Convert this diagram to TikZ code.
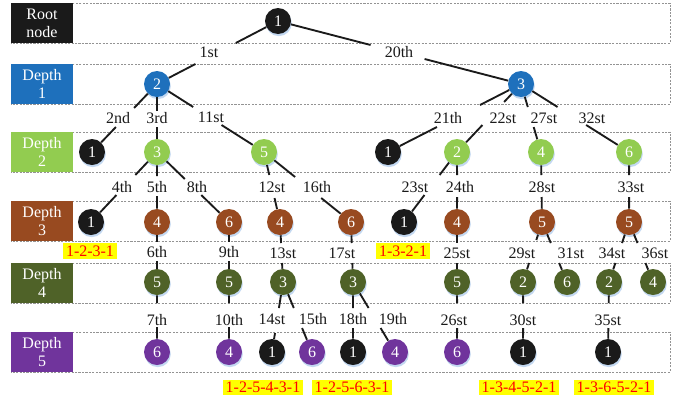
\documentclass[tikz,border=0pt]{standalone}
\usepackage{fontspec}
\setmainfont{Liberation Serif}
\usetikzlibrary{shadows}
\definecolor{cBlk}{RGB}{26,26,26}
\definecolor{cD1}{RGB}{30,112,188}
\definecolor{cD2}{RGB}{146,204,80}
\definecolor{cD3}{RGB}{152,74,32}
\definecolor{cD4}{RGB}{79,98,40}
\definecolor{cD5}{RGB}{112,52,156}
\definecolor{cHl}{RGB}{255,255,0}
\definecolor{cHt}{RGB}{255,0,0}
\definecolor{cGlow}{RGB}{170,200,235}
\newcommand\tedge[7]{%
  \draw[edgeline] (#1) -- (intersection of #1--#2 and 0,#3--1,#3);
  \draw[edgeline] (intersection of #1--#2 and 0,#4--1,#4) -- (#2);
  \node[elabel] (l#1#2) at (#6,#7) {#5};
}
\begin{document}
\begin{tikzpicture}[x=0.75pt,y=-0.75pt,
  nd/.style={circle,minimum size=19.5pt,inner sep=0pt,text=white,
    font=\fontsize{12}{12}\selectfont,
    drop shadow={shadow xshift=0.6pt,shadow yshift=-1.6pt,fill=cGlow,opacity=0.7}},
  edgeline/.style={line width=1.4pt,draw=cBlk},
  elabel/.style={inner sep=0pt,font=\fontsize{12}{12}\selectfont,text=cBlk},
  band/.style={draw=gray!85,line width=0.6pt,dash pattern=on 1.6pt off 1pt},
  lbox/.style={minimum width=46.5pt,minimum height=30pt,inner sep=0pt,text=white,
    align=center,font=\fontsize{12}{13.5}\selectfont},
  hl/.style={fill=cHl,text=cHt,inner xsep=2.2pt,inner ysep=1.6pt,
    font=\fontsize{12}{12}\selectfont}]
\useasboundingbox (0,0) rectangle (684,400);
% bands
\draw[band] (11,3) rectangle (670,43);
\draw[band] (11,64) rectangle (670,104);
\draw[band] (11,132) rectangle (670,172);
\draw[band] (11,201) rectangle (670,241);
\draw[band] (11,263) rectangle (670,303);
\draw[band] (11,332) rectangle (670,372);
% level boxes
\node[lbox,fill=cBlk] (L0) at (42,23) {Root\\node};
\node[lbox,fill=cD1] (L1) at (42,84) {Depth\\1};
\node[lbox,fill=cD2] (L2) at (42,152) {Depth\\2};
\node[lbox,fill=cD3] (L3) at (42,221) {Depth\\3};
\node[lbox,fill=cD4] (L4) at (42,283) {Depth\\4};
\node[lbox,fill=cD5] (L5) at (42,352) {Depth\\5};
% nodes
\node[nd,fill=cBlk] (R) at (278,21) {1};
\node[nd,fill=cD1] (a) at (157,84) {2};
\node[nd,fill=cD1] (b) at (521,84) {3};
\node[nd,fill=cBlk] (ba) at (92,152) {1};
\node[nd,fill=cD2] (bb) at (157,152) {3};
\node[nd,fill=cD2] (bc) at (264,152) {5};
\node[nd,fill=cBlk] (bd) at (388,152) {1};
\node[nd,fill=cD2] (be) at (457,152) {2};
\node[nd,fill=cD2] (bf) at (541,152) {4};
\node[nd,fill=cD2] (bg) at (629,152) {6};
\node[nd,fill=cBlk] (ca) at (91,222) {1};
\node[nd,fill=cD3] (cb) at (157,222) {4};
\node[nd,fill=cD3] (cc) at (229,222) {6};
\node[nd,fill=cD3] (cd) at (280,222) {4};
\node[nd,fill=cD3] (ce) at (351,222) {6};
\node[nd,fill=cBlk] (cf) at (404,222) {1};
\node[nd,fill=cD3] (cg) at (457,222) {4};
\node[nd,fill=cD3] (ch) at (542,222) {5};
\node[nd,fill=cD3] (ci) at (629,222) {5};
\node[nd,fill=cD4] (da) at (157,282) {5};
\node[nd,fill=cD4] (db) at (229,282) {5};
\node[nd,fill=cD4] (dc) at (283,282) {3};
\node[nd,fill=cD4] (dd) at (353,282) {3};
\node[nd,fill=cD4] (de) at (457,282) {5};
\node[nd,fill=cD4] (df) at (523,282) {2};
\node[nd,fill=cD4] (dg) at (567,282) {6};
\node[nd,fill=cD4] (dh) at (609,282) {2};
\node[nd,fill=cD4] (di) at (653,282) {4};
\node[nd,fill=cD5] (ea) at (157,352) {6};
\node[nd,fill=cD5] (eb) at (229,352) {4};
\node[nd,fill=cBlk] (ec) at (272,352) {1};
\node[nd,fill=cD5] (ed) at (312,352) {6};
\node[nd,fill=cBlk] (ee) at (353,352) {1};
\node[nd,fill=cD5] (ef) at (395,352) {4};
\node[nd,fill=cD5] (eg) at (457,352) {6};
\node[nd,fill=cBlk] (eh) at (523,352) {1};
\node[nd,fill=cBlk] (ei) at (608,352) {1};
% edges
\tedge{R}{a}{43}{64}{1st}{209}{52}
\tedge{R}{b}{45}{59}{20th}{399}{52}
\tedge{a}{ba}{108}{127}{2nd}{118}{118}
\tedge{a}{bb}{111}{127}{3rd}{157}{118}
\tedge{a}{bc}{107}{125}{11st}{211}{117}
\tedge{b}{bd}{105}{127}{21th}{448}{118}
\tedge{b}{be}{102}{125}{22st}{503}{118}
\tedge{b}{bf}{107}{127}{27st}{544}{118}
\tedge{b}{bg}{107}{125}{32st}{592}{118}
\tedge{bb}{ca}{175}{195}{4th}{122}{187}
\tedge{bb}{cb}{176}{196}{5th}{157}{187}
\tedge{bb}{cc}{179}{195}{8th}{197}{187}
\tedge{bc}{cd}{175}{198}{12st}{272}{187}
\tedge{bc}{ce}{177}{198}{16th}{317}{187}
\tedge{be}{cf}{175}{195}{23st}{415}{187}
\tedge{be}{cg}{175}{197}{24th}{460}{187}
\tedge{bf}{ch}{175}{197}{28st}{542}{187}
\tedge{bg}{ci}{175}{197}{33st}{631}{187}
\tedge{cb}{da}{242}{261}{6th}{157}{252}
\tedge{cc}{db}{242}{261}{9th}{229}{252}
\tedge{cd}{dc}{243}{263}{13st}{283}{253}
\tedge{ce}{dd}{243}{263}{17st}{342}{253}
\tedge{cg}{de}{243}{263}{25st}{457}{253}
\tedge{ch}{df}{240}{263}{29st}{522}{253}
\tedge{ch}{dg}{243}{263}{31st}{571}{253}
\tedge{ci}{dh}{243}{263}{34st}{612}{253}
\tedge{ci}{di}{243}{263}{36st}{655}{253}
\tedge{da}{ea}{303}{327}{7th}{157}{320}
\tedge{db}{eb}{303}{327}{10th}{229}{320}
\tedge{dc}{ec}{308}{333}{14st}{272}{319}
\tedge{dc}{ed}{308}{328}{15th}{313}{319}
\tedge{dd}{ee}{308}{328}{18th}{353}{319}
\tedge{dd}{ef}{308}{328}{19th}{393}{319}
\tedge{de}{eg}{303}{328}{26st}{454}{320}
\tedge{df}{eh}{303}{328}{30st}{523}{320}
\tedge{dh}{ei}{303}{328}{35st}{608}{320}
% highlighted paths
\node[hl] (p1) at (90,251) {1-2-3-1};
\node[hl] (p2) at (403,251) {1-3-2-1};
\node[hl] (p3) at (263,387) {1-2-5-4-3-1};
\node[hl] (p4) at (352,387) {1-2-5-6-3-1};
\node[hl] (p5) at (519,387) {1-3-4-5-2-1};
\node[hl] (p6) at (614,387) {1-3-6-5-2-1};
\end{tikzpicture}
\end{document}
